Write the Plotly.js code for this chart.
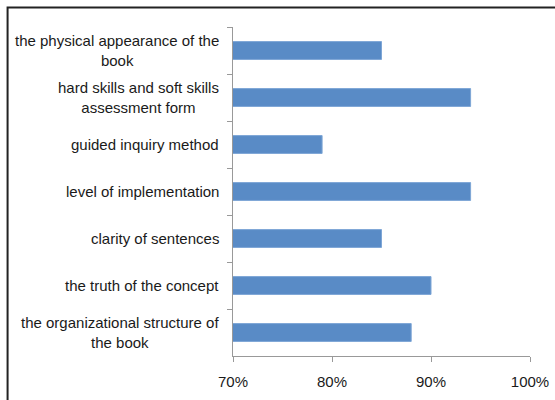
<!DOCTYPE html>
<html>
<head>
<meta charset="utf-8">
<script src="https://cdn.plot.ly/plotly-3.0.1.min.js"></script>
<style>html,body{margin:0;padding:0;background:#fff;}#chart{width:555px;height:400px;}</style>
</head>
<body>
<div id="chart"></div>
<script>
const categories = [
  "the physical appearance of the<br>book",
  "hard skills and soft skills<br>assessment form",
  "guided inquiry method",
  "level of implementation",
  "clarity of sentences",
  "the truth of the concept",
  "the organizational structure of<br>the book"
];
const values = [0.85, 0.94, 0.79, 0.94, 0.85, 0.90, 0.88];
const xTicks = [0.7, 0.8, 0.9, 1.0];
const xTickLabels = ["70%", "80%", "90%", "100%"];

const trace = {
  type: "bar",
  orientation: "h",
  y: categories,
  x: values,
  marker: {color: "#598bc6", line: {color: "#7ea6d6", width: 1}},
  hoverinfo: "none"
};

const labelFont = {family: "Liberation Sans, Arial, sans-serif", size: 15, color: "#1a1a1a"};

const annotations = categories.map(c => ({
  xref: "paper", yref: "y",
  x: 0, y: c,
  xanchor: "right", yanchor: "middle",
  xshift: -12,
  align: "center",
  text: c,
  showarrow: false,
  font: labelFont
}));

const layout = {
  width: 555, height: 400,
  margin: {l: 233, r: 25, t: 27, b: 44},
  paper_bgcolor: "#fff", plot_bgcolor: "#fff",
  showlegend: false,
  bargap: 0.62,
  font: {family: "Liberation Sans, Arial, sans-serif", size: 15, color: "#1a1a1a"},
  xaxis: {
    range: [0.7, 1.0],
    tickvals: xTicks, ticktext: xTickLabels,
    showgrid: false, zeroline: false,
    showline: true, linecolor: "#999", linewidth: 1,
    ticks: "outside", ticklen: 5, tickcolor: "#999",
    ticklabelstandoff: 7,
    fixedrange: true
  },
  yaxis: {
    type: "category",
    autorange: "reversed",
    showgrid: false, zeroline: false,
    showline: true, linecolor: "#999", linewidth: 1,
    ticks: "outside", ticklen: 5, tickcolor: "#999",
    tickson: "boundaries",
    showticklabels: false,
    fixedrange: true
  },
  annotations: annotations,
  shapes: [{
    type: "rect", xref: "paper", yref: "paper",
    x0: -0.759, x1: 1.2, y0: -0.2, y1: 1.059,
    line: {color: "#222", width: 2}, fillcolor: "rgba(0,0,0,0)", layer: "above"
  }]
};

Plotly.newPlot("chart", [trace], layout, {displayModeBar: false, staticPlot: true});
</script>
</body>
</html>
